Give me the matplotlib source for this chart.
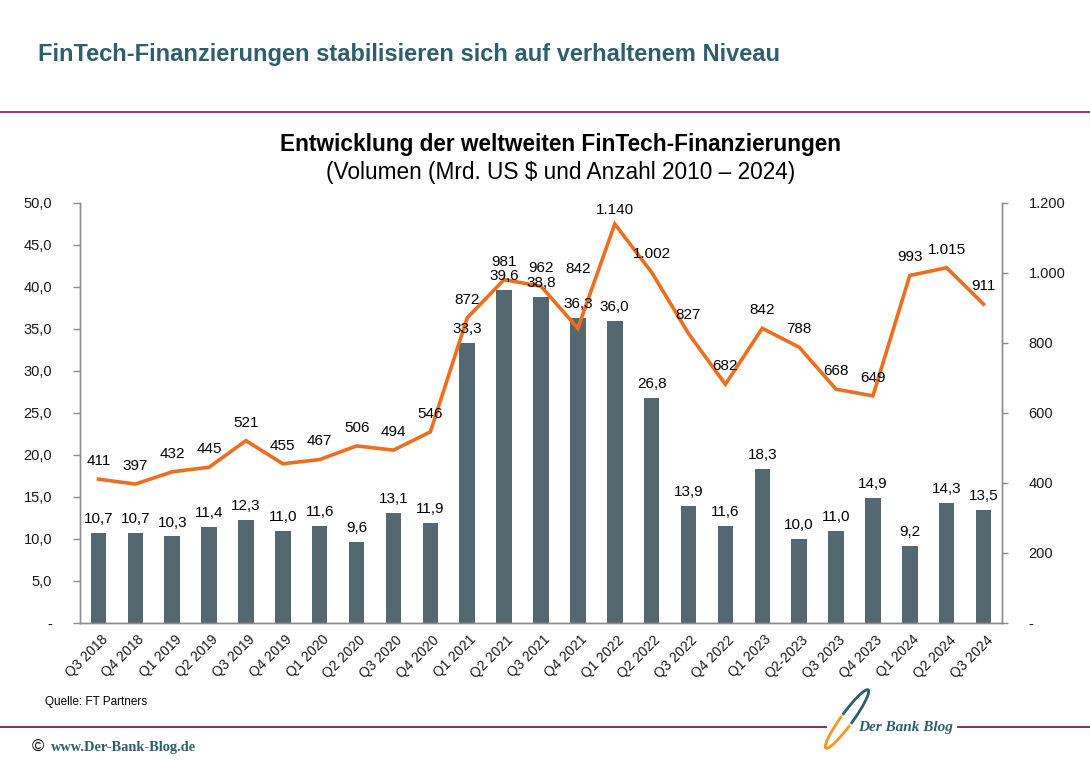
import numpy as np
import matplotlib.pyplot as plt
from matplotlib.patches import Arc
from matplotlib.ticker import FuncFormatter, MultipleLocator
import matplotlib.transforms as mtransforms

plt.rcParams['font.family'] = ['Liberation Sans', 'DejaVu Sans']

# ---------------------------------------------------------------
# data
quarters = ['Q3 2018', 'Q4 2018', 'Q1 2019', 'Q2 2019', 'Q3 2019', 'Q4 2019',
            'Q1 2020', 'Q2 2020', 'Q3 2020', 'Q4 2020', 'Q1 2021', 'Q2 2021',
            'Q3 2021', 'Q4 2021', 'Q1 2022', 'Q2 2022', 'Q3 2022', 'Q4 2022',
            'Q1 2023', 'Q2-2023', 'Q3 2023', 'Q4 2023', 'Q1 2024', 'Q2 2024',
            'Q3 2024']
volume = [10.7, 10.7, 10.3, 11.4, 12.3, 11.0, 11.6, 9.6, 13.1, 11.9, 33.3, 39.6,
          38.8, 36.3, 36.0, 26.8, 13.9, 11.6, 18.3, 10.0, 11.0, 14.9, 9.2, 14.3,
          13.5]
deals = [411, 397, 432, 445, 521, 455, 467, 506, 494, 546, 872, 981, 962, 842,
         1140, 1002, 827, 682, 842, 788, 668, 649, 993, 1015, 911]

# label offsets above the line points (points), Q4 2021 was moved up in the original
deal_label_dy = [13] * len(deals)
deal_label_dy[13] = 43
deal_label_dy[14] = 10

BAR = '#536870'
LINE = '#EE6E1F'
TEAL = '#2E5E6B'
PURPLE = '#9B1B6E'


def de_dec(v):
    return f"{v:.1f}".replace('.', ',')


def de_int(v):
    return f"{int(v):,}".replace(',', '.')


fig = plt.figure(figsize=(10.9, 7.61), dpi=100)

# ===== background layer in pixel coordinates =====
bg = fig.add_axes([0, 0, 1, 1], zorder=-1)
bg.set_xlim(0, 1090)
bg.set_ylim(761, 0)
bg.axis('off')

bg.text(38, 55, "FinTech-Finanzierungen stabilisieren sich auf verhaltenem Niveau",
        fontsize=17, fontweight='bold', color=TEAL, va='center', ha='left')
bg.plot([0, 1090], [112, 112], color=PURPLE, lw=1.3)

bg.text(561, 145, "Entwicklung der weltweiten FinTech-Finanzierungen",
        fontsize=16.3, fontweight='bold', color='black', ha='center', va='center')
bg.text(561, 173, "(Volumen (Mrd. US $ und Anzahl 2010 – 2024)",
        fontsize=16.3, color='black', ha='center', va='center')

bg.text(45, 702, "Quelle: FT Partners", fontsize=8.5, ha='left', va='center')

# footer line with logo
bg.plot([0, 826], [727, 727], color='#7A1A5E', lw=1.3)
bg.plot([958, 1090], [727, 727], color='#7A1A5E', lw=1.3)
bg.add_patch(Arc((847, 719), 72, 12, angle=-54, theta1=-80, theta2=105,
                 color=TEAL, lw=2.0))
bg.add_patch(Arc((847, 719), 72, 12, angle=-54, theta1=120, theta2=260,
                 color='#F39A1E', lw=2.0))
bg.add_patch(Arc((847, 719), 72, 12, angle=-54, theta1=260, theta2=280,
                 color='#F39A1E', lw=0.8))
bg.text(906, 727, "Der Bank Blog", fontsize=11, fontweight='bold', fontstyle='italic',
        family=['Liberation Serif', 'DejaVu Serif'], color=TEAL, ha='center', va='center')

bg.text(32, 747, "©", fontsize=12, color='black', ha='left', va='center')
bg.text(51, 748, "www.Der-Bank-Blog.de", fontsize=10.4, fontweight='bold',
        family=['Liberation Serif', 'DejaVu Serif'], color=TEAL, ha='left', va='center')

# ===== chart =====
ax = fig.add_axes([80 / 1090, 1 - 623 / 761, 922 / 1090, 420 / 761])
ax2 = ax.twinx()
ax.patch.set_visible(False)

x = np.arange(len(quarters))
ax.bar(x, volume, width=0.42, color=BAR, zorder=2)
ax2.plot(x, deals, color=LINE, lw=2.6, solid_joinstyle='miter', zorder=3)

ax.set_xlim(-0.5, len(quarters) - 0.5)
ax.set_ylim(0, 50)
ax2.set_ylim(0, 1200)
ax.yaxis.set_major_locator(MultipleLocator(5))
ax2.yaxis.set_major_locator(MultipleLocator(200))
ax.yaxis.set_major_formatter(FuncFormatter(lambda v, p: '-' if v == 0 else de_dec(v)))
ax2.yaxis.set_major_formatter(FuncFormatter(lambda v, p: '-' if v == 0 else de_int(v)))

for a in (ax, ax2):
    a.spines['top'].set_visible(False)
    for s in ('left', 'right', 'bottom'):
        a.spines[s].set_color('#8C8C8C')
        a.spines[s].set_linewidth(1.0)
ax.tick_params(axis='y', length=5, width=1, color='#8C8C8C', pad=15,
               labelsize=10.5, labelcolor='#1A1A1A')
ax2.tick_params(axis='y', length=4, width=1, color='#8C8C8C', pad=15,
                labelsize=10.5, labelcolor='#1A1A1A')
ax.set_xticks(x)
ax.set_xticklabels(quarters, rotation=45, ha='right', va='top',
                   rotation_mode='anchor', fontsize=10, color='#1A1A1A')
ax.tick_params(axis='x', length=0, pad=7)
shift = mtransforms.ScaledTranslation(2 / 100, 0, fig.dpi_scale_trans)
for lab in ax.get_xticklabels():
    lab.set_transform(lab.get_transform() + shift)

# data labels (drawn on the top axes so they sit above the line)
for i, v in enumerate(volume):
    ax2.annotate(de_dec(v), xy=(i, v), xycoords=ax.transData, xytext=(0, 10),
                 textcoords='offset points', ha='center', va='center',
                 fontsize=11, color='black', zorder=5)
for i, v in enumerate(deals):
    ax2.annotate(de_int(v), xy=(i, v), xytext=(0, deal_label_dy[i]),
                 textcoords='offset points', ha='center', va='center',
                 fontsize=11, color='black', zorder=5)

fig.savefig('out.png', dpi=100)
